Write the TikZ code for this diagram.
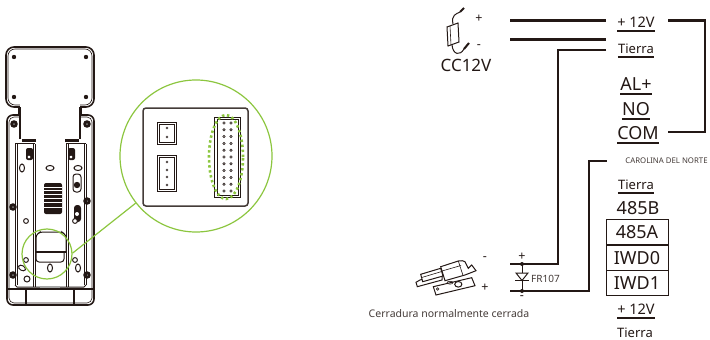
\documentclass[tikz,border=0pt]{standalone}
\usepackage{fontspec}
\setmainfont{Noto Sans}
\usetikzlibrary{matrix}

\definecolor{inkdark}{HTML}{231815}
\definecolor{zoomgreen}{HTML}{8CC63F}

\tikzset{
  wire/.style={line width=2.9pt, color=inkdark},
  part/.style={line width=1pt, color=inkdark},
  thinpart/.style={line width=0.6pt, color=inkdark},
  termlabel/.style={anchor=base, inner xsep=0pt, inner ysep=3.6pt, text depth=0pt, text=inkdark},
  biglabel/.style={termlabel, font=\fontsize{18}{20}\selectfont},
  smalllabel/.style={termlabel, font=\fontsize{13}{15}\selectfont},
  signlabel/.style={anchor=center, inner sep=0pt, text=inkdark, font=\fontsize{12.5}{13}\selectfont\bfseries},
  zoomline/.style={line width=1.2pt, color=zoomgreen},
  screw/.style={fill=inkdark, draw=none},
  hole/.style={draw=inkdark, line width=1pt, fill=white}
}

\begin{document}
\begin{tikzpicture}[x=1pt, y=-1pt]
\useasboundingbox (0,0) rectangle (710,340);

% device, back side
\draw[line width=1.6pt, color=inkdark, rounded corners=8pt] (6,47) rectangle (94,107);
\draw[thinpart, rounded corners=7pt] (8,49) rectangle (92,105);
\foreach \x/\y in {14/57, 86/57, 14/97, 86/97}
  \fill[screw] (\x,\y) circle (2.2pt);
\fill[white] (20,100) rectangle (80,140);
\draw[line width=1.2pt, color=inkdark] (20,107) -- (20,139) (80,107) -- (80,139);
\draw[thinpart] (18.5,107) -- (18.5,115) (81.5,107) -- (81.5,115);
\draw[line width=1.6pt, color=inkdark, rounded corners=6pt] (20,115) -- (7,115) -- (7,305) -- (94,305) -- (94,115) -- (80,115);
\draw[thinpart, rounded corners=5pt] (20,117) -- (9,117) -- (9,303) -- (92,303) -- (92,117) -- (80,117);
\foreach \x/\y in {14/124, 87/124, 13/207, 87/201, 13/275, 87/275} {
  \fill[screw] (\x,\y) circle (3.8pt);
  \fill[gray] (\x,\y) circle (1pt);
}
\draw[line width=2.6pt, color=inkdark] (22,140.5) -- (36,140.5) (65,140.5) -- (79,140.5);
\draw[part] (15,143.5) -- (35,143.5) (66,143.5) -- (86,143.5);
\draw[part] (15,143.5) -- (15,285) (17,143.5) -- (17,285)
  (33,143.5) -- (33,287) (35,143.5) -- (35,287)
  (66,143.5) -- (66,287) (68,143.5) -- (68,287)
  (84,143.5) -- (84,285) (86,143.5) -- (86,285);
\draw[part] (15,285) -- (17,287) -- (40,287) (60,287) -- (84,287) -- (86,285);
\draw[line width=1.8pt, color=gray!70] (40,287) -- (60,287);
\draw[line width=1.2pt, color=inkdark] (7,289) -- (94,289) (26,289) -- (26,305) (74,289) -- (74,305);
\fill[screw, rounded corners=2pt] (26,148) rectangle (33,160);
\fill[screw, rounded corners=2pt] (68,148) rectangle (75,160);
\foreach \x/\y in {29/157, 71/157}
  \draw[hole] (\x,\y) circle (2pt);
\draw[hole] (22,168) ellipse (2.5pt and 4pt);
\draw[hole] (50,168) ellipse (4pt and 2.5pt);
\draw[hole] (78,168) ellipse (4pt and 2.5pt);
\draw[hole, rounded corners=3pt] (73,174) rectangle (81,192);
\fill[screw] (77,185) circle (3.2pt);
\fill[screw, rounded corners=3pt] (74,205) rectangle (81,222);
\fill[white] (77,214) circle (2pt);
\foreach \x/\y in {26/221, 75/221, 26/260, 75/260}
  \draw[hole] (\x,\y) circle (2.4pt);
\draw[hole] (27,279) circle (3pt);
\draw[hole, rotate around={-30:(22,268)}] (22,268) ellipse (3.8pt and 2.4pt);
\draw[hole] (50,268) ellipse (2.5pt and 4pt);
\draw[hole] (78,268) ellipse (2.5pt and 4pt);
\draw[part, rounded corners=3pt] (36,252) -- (36,235) -- (40,232) -- (62,232) -- (66,235) -- (66,252);
\draw[part, rounded corners=3pt] (36,252) -- (36,262) -- (64,262) -- (64,252);
\draw[line width=1.4pt, color=inkdark] (36,252) -- (66,252);
\fill[inkdark, rounded corners=2pt] (44,183) rectangle (62,214);
\foreach \y in {187, 190.5, 194, 198, 202.5, 207}
  \draw[line width=0.4pt, white] (44,\y) -- (62,\y);

% zoomed connector panel
\node[draw=zoomgreen, line width=1.2pt, circle, fill=white, minimum size=152pt, inner sep=0pt] (bigzoom) at (196,156) {};
\node[draw=zoomgreen, line width=1.2pt, circle, minimum size=50pt, inner sep=0pt] (smallzoom) at (47,254) {};
\draw[zoomline] (smallzoom.2) -- (bigzoom.218);
\draw[line width=1.5pt, color=inkdark!85, rounded corners=3pt] (143,108) rectangle (248,206);
\foreach \ya/\yb in {122/144, 155/191} {
  \draw[part] (157,\ya) rectangle (176,\yb);
  \draw[thinpart] (159,\ya+2) rectangle (174,\yb-2);
}
\foreach \y in {128, 137, 162, 170, 177, 185}
  \fill[inkdark!80] (167,\y) circle (1.4pt);
\draw[part] (214,117) rectangle (240,197);
\draw[part] (217,119) rectangle (238,195);
\foreach \n in {0,...,10} {
  \draw[thinpart] (224,123+6.8*\n) circle (1.2pt);
  \draw[thinpart] (231,123+6.8*\n) circle (1.2pt);
}
\draw[line width=2.6pt, color=zoomgreen, dash pattern=on 2.4pt off 2.6pt] (226,157) ellipse (17pt and 42pt);

% power adapter
\draw[part] (447,27) -- (458,23) -- (459,42) -- (448,46) -- cycle;
\draw[thinpart] (450,26) -- (451,45);
\draw[part] (453,24) .. controls (451,15) and (456,14) .. (460,12);
\draw[line width=2pt, color=inkdark] (460,12) -- (464,8);
\draw[part] (452,45) .. controls (453,55) and (460,56) .. (464,49);
\draw[line width=2pt, color=inkdark] (464,49) -- (469,43);
\node[signlabel] (adplus) at (479,19) {+};
\node[signlabel] (adminus) at (479,47) {-};
\node[termlabel, font=\fontsize{17}{19}\selectfont] (adname) at (466,71) {CC12V};

% door lock
\draw[part, fill=white] (433.3,286.7) -- (471.7,277.7) -- (475,285.7) -- (436,295) -- cycle;
\draw[thinpart] (437.7,289) circle (1.3pt);
\draw[part] (458.3,284.3) ellipse (3.6pt and 2.8pt);
\draw[thinpart] (450,282.7) ellipse (3pt and 1.4pt);
\draw[part, fill=white] (416,282.3) -- (420,280) -- (442,274) -- (442,280) -- (417.3,286.7) -- cycle;
\draw[part, fill=white] (420.7,274.3) -- (440.7,268.3) -- (443,276) -- (422.7,281.7) -- cycle;
\draw[thinpart] (421.7,277.5) -- (441.7,271.5);
\draw[part, fill=white] (440.7,266.7) -- (458.3,261) .. controls (461,260.5) and (464,260.5) .. (465,261.7) -- (468.3,268.3) -- (471.7,265) -- (476,270.7) -- (465,275) -- (445,280.7) -- cycle;
\draw[thinpart] (442,271) -- (461,265.5) (458.3,261) -- (463,275.5);
\node[signlabel] (lockminus) at (485,259) {-};
\node[signlabel] (lockplus) at (485,288) {+};
\node[anchor=center, inner sep=0pt, text=inkdark!85, font=\fontsize{10.5}{12}\selectfont] (lockname) at (449,314) {Cerradura normalmente cerrada};

% terminals
\node[smalllabel, font=\fontsize{14.5}{16}\selectfont] (plusa) at (636,27.5) {+ 12V};
\node[smalllabel] (gnda) at (636,53.5) {Tierra};
\node[biglabel] (alarm) at (636,90) {AL+};
\node[biglabel] (normopen) at (636,115) {NO};
\node[biglabel] (common) at (638,139.5) {COM};
\node[anchor=center, inner sep=0pt, text=inkdark!85, font=\fontsize{7.8}{9}\selectfont] (ncname) at (666.5,161) {CAROLINA DEL NORTE};
\node[smalllabel] (gndb) at (636,189) {Tierra};
\node[biglabel] (rsb) at (638,214) {485B};
\node[smalllabel, font=\fontsize{14.5}{16}\selectfont] (plusb) at (636,314) {+ 12V};
\node[smalllabel, inner ysep=0pt] (gndc) at (635,337) {Tierra};
\foreach \n in {plusa, gnda, alarm, normopen, common, gndb, plusb}
  \draw[line width=1.8pt, color=inkdark] (\n.south west) -- (\n.south east);

\matrix (iotable) at (637,257.5) [
  matrix of nodes,
  nodes={draw=inkdark, line width=0.9pt, minimum height=25pt, minimum width=62pt, text depth=0pt, text height=13pt, inner sep=0pt, anchor=center, text=inkdark, font=\fontsize{18}{20}\selectfont},
  row sep=-\pgflinewidth,
  inner sep=0pt
]
{
  485A \\
  IWD0 \\
  IWD1 \\
};

% wiring
\coordinate (adtop) at (510,20.5);
\coordinate (adtopend) at (606,20.5);
\coordinate (adbot) at (510,39.5);
\coordinate (adbotend) at (606,39.5);
\coordinate (gndend) at (606,50);
\coordinate (lockup) at (510,264);
\coordinate (lockdown) at (510,291);
\coordinate (ncend) at (607,161);
\coordinate (plusend) at (668,20.5);
\coordinate (comend) at (668,132);
\coordinate (sideline) at (705,20.5);
\draw[wire] (adtop) -- (adtopend);
\draw[wire] (adbot) -- (adbotend);
\draw[wire] (gndend) -| (558,264) -- (lockup);
\draw[wire] (lockdown) -| (589,161) -- (ncend);
\draw[wire] (plusend) -- (sideline) |- (comend);

% diode
\coordinate (diodetop) at (522,264);
\coordinate (diodebot) at (522,291);
\draw[part] (diodetop) -- (diodebot);
\fill[inkdark] (diodetop) circle (2pt) (diodebot) circle (2pt);
\draw[line width=1pt, color=inkdark, fill=white] (516,273) -- (528,273) -- (522,280.5) -- cycle;
\draw[line width=1.2pt, color=inkdark] (515,280.5) -- (529,280.5);
\node[signlabel] (diodeplus) at (522,256.5) {+};
\node[signlabel] (diodeminus) at (522,297.5) {-};
\node[anchor=west, inner sep=0pt, text=inkdark!85, font=\fontsize{10}{12}\selectfont] (diodename) at (531,279) {FR107};

\end{tikzpicture}
\end{document}
